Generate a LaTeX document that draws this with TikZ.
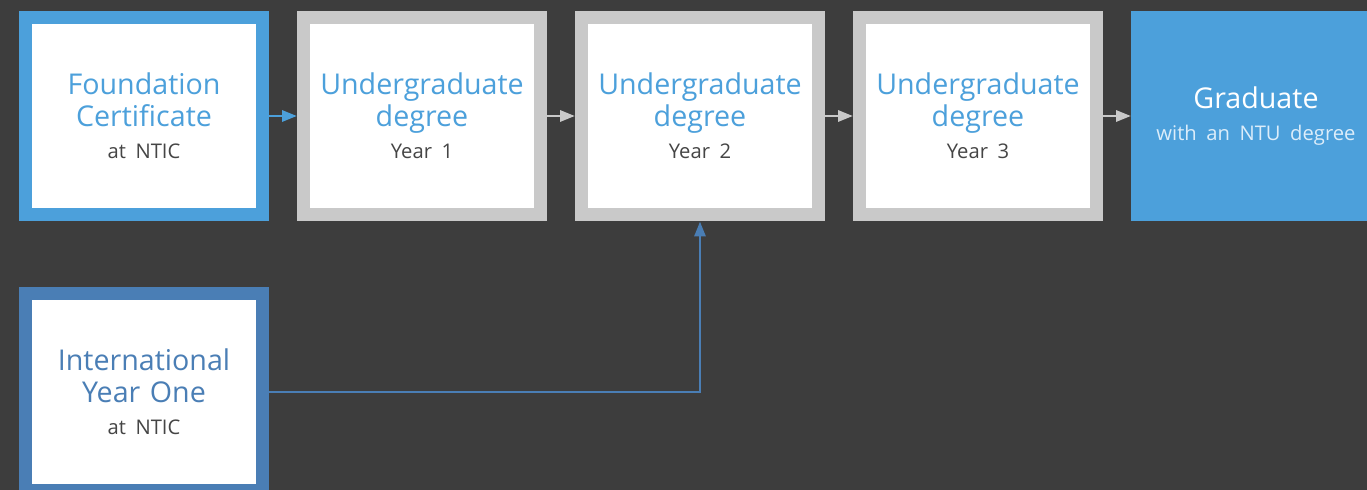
\documentclass[tikz,border=0pt]{standalone}
\usepackage{fontspec}
\setmainfont{Open Sans}[WordSpace=0.8]
\usetikzlibrary{arrows.meta}
\definecolor{fond}{HTML}{3D3D3D}
\definecolor{bleu}{HTML}{4CA0DB}
\definecolor{bleufonce}{HTML}{4A7EB5}
\definecolor{gris}{HTML}{C9C9C9}
\definecolor{texte}{HTML}{454545}
\definecolor{pale}{HTML}{DCEDFA}
\newcommand{\sousligne}[1]{{\fontsize{11.5}{19}\selectfont\color{texte}#1}}
\tikzstyle{etape} = [rectangle, draw=gris, fill=white, line width=0.26cm, minimum width=4.74cm, minimum height=3.96cm, inner sep=0pt, outer sep=0.13cm, text width=4.4cm, align=center, font=\fontsize{16.3}{18.2}\selectfont, text=bleu]
\tikzstyle{fleche} = [draw=gris, line width=1.7pt, -{Triangle[length=0.3cm,width=0.22cm]}]

\begin{document}
\begin{tikzpicture}[x=0.02cm, y=-0.02cm]

        \path[use as bounding box, fill=fond] (0,0) rectangle (1367,490);

        \node (FC) [etape, draw=bleu] at (144,116) {Foundation\\Certificate\\\sousligne{at NTIC}};
        \node (A1) [etape] at (422,116) {Undergraduate\\degree\\\sousligne{Year 1}};
        \node (A2) [etape] at (700,116) {Undergraduate\\degree\\\sousligne{Year 2}};
        \node (A3) [etape] at (978,116) {Undergraduate\\degree\\\sousligne{Year 3}};
        \node (GR) [etape, draw=bleu, fill=bleu, text=white] at (1256,116) {Graduate\\{\fontsize{11.5}{19}\selectfont\color{pale}with an NTU degree}};

        \node (IY) [etape, draw=bleufonce, text=bleufonce] at (144,392) {International\\Year One\\\sousligne{at NTIC}};

        \draw [fleche, draw=bleu] (FC) -- (A1);
        \draw [fleche] (A1) -- (A2);
        \draw [fleche] (A2) -- (A3);
        \draw [fleche] (A3) -- (GR);
        \draw [fleche, draw=bleufonce] (IY.east) -| (A2.south);

    \end{tikzpicture}
\end{document}
